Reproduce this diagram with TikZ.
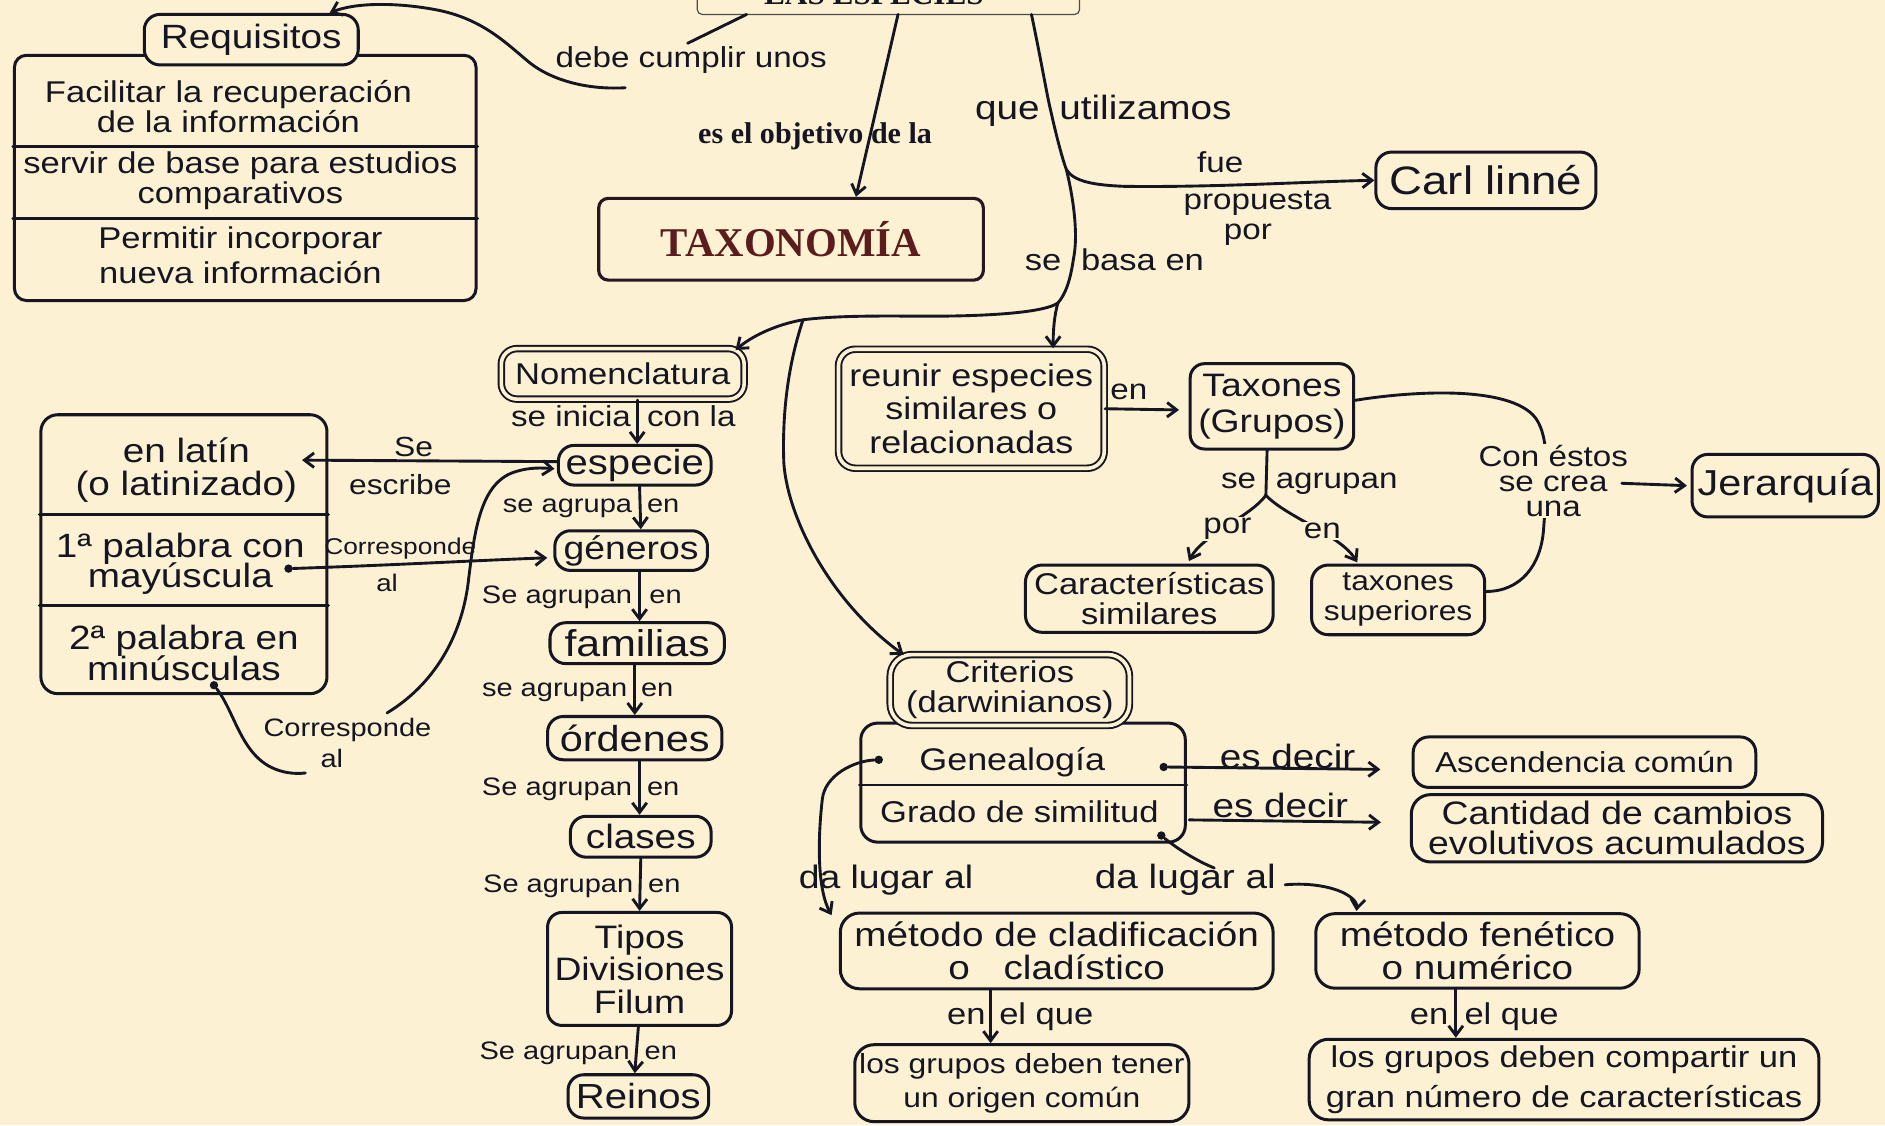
\documentclass[tikz,border=0pt]{standalone}
\usepackage{fontspec}
\setmainfont{Liberation Sans}[FakeStretch=1.15]
\newfontfamily\printfont{Liberation Serif}
\usetikzlibrary{arrows.meta}
\definecolor{paper}{RGB}{253,241,212}
\definecolor{ink}{RGB}{22,22,34}
\definecolor{maroon}{RGB}{92,28,28}
\begin{document}
\begin{tikzpicture}[x=1pt,y=-1pt,
  fs/.style={font=\fontsize{#1}{#1}\selectfont},
  sz/.style 2 args={minimum width=#1pt, minimum height=#2pt},
  box/.style={draw=ink, line width=2.5pt, fill=paper, rounded corners=10pt,
              inner sep=0pt, align=center, text=ink},
  pill/.style={box, rounded corners=13pt},
  dbl/.style={double=paper, double distance=3pt, line width=1.6pt},
  lbl/.style={inner sep=1pt, text=ink, align=center},
  conn/.style={draw=ink, line width=2.4pt, line cap=round},
  arr/.style={conn, -{Straight Barb[length=8pt,width=12pt]}},
  dot/.style={circle, fill=ink, inner sep=0pt, minimum size=7pt},
]
\useasboundingbox (0,0) rectangle (1568,936);
\clip (0,0) rectangle (1568,936);
\fill[paper] (0,0) rectangle (1568,936);

% ---------- boxes ----------
\node[draw=gray!60!black, line width=1pt, rounded corners=4pt, fill=paper, sz={318}{52}] (esp) at (739,-14) {};
\node[anchor=base, text=ink, font=\printfont\bfseries\fontsize{26}{26}\selectfont] (esptxt) at (727,4) {LAS ESPECIES};

\node[box, sz={384}{204}] (reqbox) at (204,148) {};
\draw[conn] (reqbox.west |- 0,122) -- (reqbox.east |- 0,122);
\draw[conn] (reqbox.west |- 0,182) -- (reqbox.east |- 0,182);
\node[pill, sz={178}{42}, fs=28] (req) at (209,33) {Requisitos};
\node[lbl, fs=25] (req1) at (190,89) {Facilitar la recuperación\\de la información};
\node[lbl, fs=25] (req2) at (200,150) {servir de base para estudios\\comparativos};
\node[lbl, fs=25] (req3) at (200,212) {Permitir incorporar\\[4pt]nueva información};

\node[draw=ink!75!maroon, line width=2.6pt, rounded corners=8pt, sz={320}{68}, text=maroon,
      font=\printfont\bfseries\fontsize{34}{34}\selectfont] (tax) at (658,199) {TAXONOMÍA};

\node[pill, sz={183}{47}, fs=33] (carl) at (1236,150) {Carl linné};

\node[pill, dbl, sz={202}{42}, fs=25] (nom) at (518,311) {Nomenclatura};
\node[pill, sz={127}{33}, fs=29] (especie) at (528,387) {especie};
\node[pill, sz={127}{33}, fs=27] (generos) at (525,458) {géneros};
\node[pill, sz={145}{34}, fs=31] (familias) at (530,535) {familias};
\node[pill, sz={145}{36}, fs=30] (ordenes) at (528,614) {órdenes};
\node[pill, sz={117}{34}, fs=28] (clases) at (533,696) {clases};
\node[box, rounded corners=12pt, sz={153}{94}, fs=27] (tipos) at (532,806) {Tipos\\Divisiones\\Filum};
\node[pill, sz={117}{36}, fs=29] (reinos) at (531,912) {Reinos};

\node[box, rounded corners=14pt, sz={238}{232}] (latin) at (153,461) {};
\draw[conn] (latin.west |- 0,428) -- (latin.east |- 0,428);
\draw[conn] (latin.west |- 0,504) -- (latin.east |- 0,504);
\node[lbl, fs=28] (lat1) at (155,391) {en latín\\(o latinizado)};
\node[lbl, fs=28] (lat2) at (150,469) {1ª palabra con\\[-3pt]mayúscula};
\node[lbl, fs=28] (lat3) at (153,543) {2ª palabra en\\[-2pt]minúsculas};
\node[dot] (dotmay) at (240,473) {};
\node[dot] (dotmin) at (178,570) {};

\node[box, dbl, rounded corners=14pt, sz={221}{99}, fs=26] (reunir) at (808,340) {reunir especies\\[2pt]similares o\\[2pt]relacionadas};
\node[box, rounded corners=12pt, sz={136}{71}, fs=27] (taxones) at (1058,338) {Taxones\\[3pt](Grupos)};
\node[pill, sz={155}{52}, fs=30] (jer) at (1485,404) {Jerarquía};
\node[box, rounded corners=14pt, sz={206}{56}, fs=25] (caract) at (956,498) {Características\\similares};
\node[box, rounded corners=14pt, sz={144}{58}, fs=23] (taxsup) at (1163,499) {taxones\\[2pt]superiores};

\node[box, rounded corners=14pt, sz={270}{99}] (gene) at (851,651) {};
\draw[conn] (gene.west |- 0,653) -- (gene.east |- 0,653);
\node[pill, dbl, rounded corners=18pt, sz={199}{59}, fs=25] (crit) at (840,574) {Criterios\\(darwinianos)};
\node[lbl, fs=26] (genea) at (842,634) {Genealogía};
\node[lbl, fs=25] (grado) at (848,675) {Grado de similitud};
\node[dot] (dotgl) at (731,632) {};
\node[dot] (dotgr) at (968,638) {};
\node[dot] (dotsim) at (966,695) {};

\node[pill, sz={285}{42}, fs=24] (asc) at (1318,634) {Ascendencia común};
\node[box, rounded corners=16pt, sz={342}{56}, fs=27] (cant) at (1345,689) {Cantidad de cambios\\[-2pt]evolutivos acumulados};
\node[box, rounded corners=16pt, sz={360}{63}, fs=28] (clad) at (879,791) {método de cladificación\\o\quad cladístico};
\node[box, rounded corners=16pt, sz={269}{62}, fs=28] (fen) at (1229,791) {método fenético\\o numérico};
\node[box, rounded corners=16pt, sz={278}{64}, fs=23] (tener) at (850,901) {los grupos deben tener\\[5pt]un origen común};
\node[box, rounded corners=16pt, sz={424}{67}, fs=25] (comp) at (1301,898) {los grupos deben compartir un\\[8pt]gran número de características};

% ---------- connectors between boxes ----------
\coordinate (fork3) at (887,141);
\coordinate (fork) at (880,252);
\coordinate (fork2) at (668,266);
\coordinate (tsplit) at (1053,412);

\draw[arr] ([shift={(8,26)}]esp.center) -- ([xshift=54pt]tax.north);
\draw[conn] ([shift={(119,26)}]esp.center) .. controls (866,50) and (871,80) .. (874,92)
  .. controls (878,110) and (883,130) .. (fork3)
  .. controls (893,165) and (897,195) .. (893,215)
  .. controls (890,235) and (886,245) .. (fork);
\draw[arr] (fork3) .. controls (893,151) and (910,154) .. (935,155)
  .. controls (1010,156) and (1090,151) .. (carl.west);
\draw[arr] (fork) .. controls (877,262) and (876,275) .. ([xshift=68pt]reunir.north);
\draw[arr] (fork) .. controls (866,262) and (800,263) .. (776,263)
  .. controls (740,263) and (700,262) .. (fork2)
  .. controls (645,270) and (625,280) .. ([shift={(-8,2)}]nom.north east);
\draw[arr] (fork2) .. controls (660,290) and (650,330) .. (652,385)
  .. controls (655,430) and (690,500) .. ([shift={(12,1)}]crit.north west);

\draw[arr] ([xshift=12pt]nom.south) -- ([xshift=2pt]especie.north);
\draw[arr] ([xshift=4pt]especie.south) -- ([xshift=8pt]generos.north);
\draw[arr] ([xshift=7pt]generos.south) -- ([xshift=2pt]familias.north);
\draw[arr] ([xshift=-2pt]familias.south) -- (ordenes.north);
\draw[arr] ([xshift=4pt]ordenes.south) -- ([xshift=-1pt]clases.north);
\draw[arr] (clases.south) -- (tipos.north);
\draw[arr] ([xshift=-1pt]tipos.south) -- ([xshift=-3pt]reinos.north);

\draw[arr] ([shift={(0,-3)}]especie.west) -- ([shift={(-22,39)}]latin.north east);
\draw[arr] (dotmay) .. controls (330,470) and (400,466) .. ([shift={(-5,6)}]generos.west);

\draw[arr] (reunir.east) -- ([shift={(-8,3)}]taxones.west);
\draw[conn] ([xshift=-4pt]taxones.south) -- (tsplit);
\draw[arr] (tsplit) .. controls (1040,430) and (1000,445) .. ([shift={(33,-2)}]caract.north);
\draw[arr] (tsplit) .. controls (1070,430) and (1115,445) .. ([shift={(-34,-1)}]taxsup.north);
\draw[conn] ([shift={(0,-5)}]taxones.east) .. controls (1170,326) and (1250,320) .. (1275,345)
  .. controls (1290,360) and (1287,400) .. (1284,440)
  .. controls (1282,470) and (1265,492) .. ([shift={(0,-7)}]taxsup.east);

\draw[arr] (dotgr) -- ([shift={(-26,6)}]asc.west);
\draw[arr] ([shift={(2,31)}]gene.east) -- ([shift={(-24,-5)}]cant.west);
\draw[arr] (dotgl) .. controls (710,633) and (686,645) .. (684,665)
  .. controls (680,700) and (680,740) .. ([shift={(-6,3)}]clad.north west);
\draw[arr] ([xshift=-55pt]clad.south) -- ([xshift=-26pt]tener.north);
\draw[arr] ([xshift=-18pt]fen.south) -- ([xshift=-90pt]comp.north);

% ---------- link labels ----------
\node[lbl, fs=24] (debe) at (575,50) {debe cumplir unos};
\node[lbl, text=ink, font=\printfont\bfseries\fontsize{25}{25}\selectfont] (obj) at (678,113) {es el objetivo de la};
\node[lbl, fs=28, anchor=base east] (que) at (866,99) {que};
\node[lbl, fs=28, anchor=base west] (utiliz) at (880,99) {utilizamos};
\node[lbl, fs=24] (fue) at (1015,135) {fue};
\node[lbl, fs=24] (propuesta) at (1046,169) {propuesta};
\node[lbl, fs=24] (por0) at (1038,195) {por};
\node[lbl, fs=25, anchor=base east] (se0) at (884,225) {se};
\node[lbl, fs=25, anchor=base west] (basa) at (898,225) {basa en};

\node[lbl, fs=24, anchor=base east] (inicia) at (526,355) {se inicia};
\node[lbl, fs=24, anchor=base west] (conla) at (537,355) {con la};
\node[lbl, fs=21, anchor=base east] (ag1) at (527,426) {se agrupa};
\node[lbl, fs=21, anchor=base west] (en1) at (537,426) {en};
\node[lbl, fs=21, anchor=base east] (ag2) at (527,502) {Se agrupan};
\node[lbl, fs=21, anchor=base west] (en2) at (539,502) {en};
\node[lbl, fs=21, anchor=base east] (ag3) at (523,579) {se agrupan};
\node[lbl, fs=21, anchor=base west] (en3) at (532,579) {en};
\node[lbl, fs=21, anchor=base east] (ag4) at (527,662) {Se agrupan};
\node[lbl, fs=21, anchor=base west] (en4) at (537,662) {en};
\node[lbl, fs=21, anchor=base east] (ag5) at (528,742) {Se agrupan};
\node[lbl, fs=21, anchor=base west] (en5) at (538,742) {en};
\node[lbl, fs=21, anchor=base east] (ag6) at (525,881) {Se agrupan};
\node[lbl, fs=21, anchor=base west] (en6) at (535,881) {en};

\node[lbl, fs=23] (se1) at (344,372) {Se};
\node[lbl, fs=23] (escribe) at (333,403) {escribe};
\node[lbl, fs=19] (corrA1) at (333,456) {Corresponde};
\node[lbl, fs=20] (corrA2) at (322,485) {al};
\node[lbl, fs=21] (corrB1) at (289,607) {Corresponde};
\node[lbl, fs=21] (corrB2) at (276,631) {al};

\node[lbl, fs=24] (enr) at (939,326) {en};
\node[lbl, fs=24, anchor=base east] (se2) at (1046,406) {se};
\node[lbl, fs=24, anchor=base west] (agrupan) at (1060,406) {agrupan};
\node[lbl, fs=24, fill=paper] (por) at (1021,440) {por};
\node[lbl, fs=24, fill=paper] (enb) at (1100,442) {en};
\node[lbl, fs=24, fill=paper] (conestos) at (1292,400) {Con éstos\\[-3pt]se crea\\[-3pt]una};

\node[lbl, fs=28] (esdecir1) at (1071,629) {es decir};
\node[lbl, fs=28] (esdecir2) at (1065,670) {es decir};
\node[lbl, fs=27] (dalugarL) at (737,732) {da lugar al};
\node[lbl, fs=28] (dalugarR) at (986,732) {da lugar al};
\node[lbl, fs=25, anchor=base east] (en7) at (821,852) {en};
\node[lbl, fs=25, anchor=base west] (elque7) at (830,852) {el que};
\node[lbl, fs=25, anchor=base east] (en8) at (1206,852) {en};
\node[lbl, fs=25, anchor=base west] (elque8) at (1217,852) {el que};

% ---------- connectors through labels ----------
\draw[conn] ([shift={(-118,26)}]esp.center) -- ([shift={(-3,-14)}]debe.center);
\draw[arr] ([shift={(-55,23)}]debe.center) .. controls (485,75) and (455,65) .. (438,50)
  .. controls (420,35) and (400,15) .. (362,8)
  .. controls (330,2) and (295,2) .. ([shift={(65,-22)}]req.center);

\draw[conn] (dotmin) .. controls (195,592) and (200,625) .. (225,638)
  .. controls (235,643) and (245,644) .. ([shift={(-22,12)}]corrB2.center);
\draw[arr] ([shift={(33,-14)}]corrB1.center) .. controls (360,570) and (385,530) .. (390,480)
  .. controls (395,440) and (400,400) .. (430,392)
  .. controls (440,389) and (450,389) .. ([shift={(-2,3)}]especie.west);

\draw[arr] ([shift={(57,2)}]conestos.center) -- ([shift={(-3,0)}]jer.west);

\draw[conn] (dotsim) .. controls (978,705) and (995,716) .. ([shift={(24,-10)}]dalugarR.center);
\draw[arr] ([shift={(83,4)}]dalugarR.center) .. controls (1090,734) and (1110,738) .. (1120,744)
  .. controls (1127,748) and (1129,752) .. ([shift={(35,-1)}]fen.north west);
\end{tikzpicture}
\end{document}
